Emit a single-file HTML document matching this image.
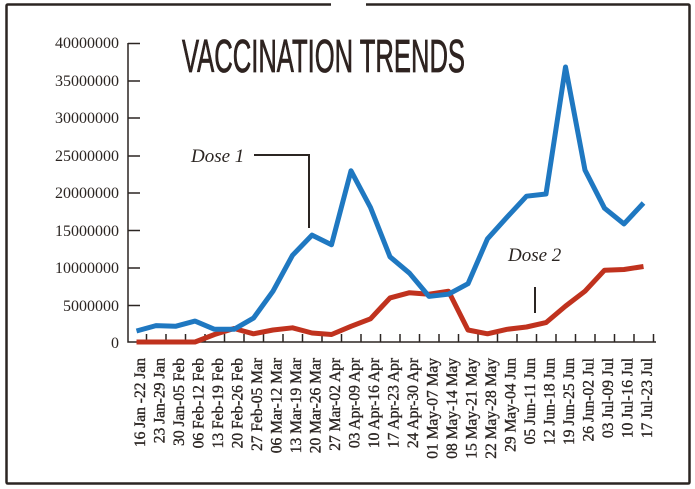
<!DOCTYPE html>
<html><head><meta charset="utf-8"><style>
html,body{margin:0;padding:0;background:#fff;}
svg{display:block;}
</style></head><body>
<svg width="695" height="489" viewBox="0 0 695 489" xmlns="http://www.w3.org/2000/svg">
<rect width="695" height="489" fill="#fff"/>
<path d="M331 4.5 H8 Q6.5 4.5 6.5 6 V482 Q6.5 483.5 8 483.5 H688 Q689.5 483.5 689.5 482 V6 Q689.5 4.5 688 4.5 H366" fill="none" stroke="#2b2522" stroke-width="2.5"/>
<text x="182" y="72" font-family="'Liberation Sans Narrow','Liberation Sans',sans-serif" font-weight="normal" font-size="46" fill="#2e2320" stroke="#2e2320" stroke-width="0.8" textLength="283" lengthAdjust="spacingAndGlyphs">VACCINATION TRENDS</text>
<g font-family="'Liberation Serif',serif" font-size="16" fill="#2b2522" text-anchor="end">
<text x="119" y="48">40000000</text>
<text x="119" y="86">35000000</text>
<text x="119" y="123">30000000</text>
<text x="119" y="161">25000000</text>
<text x="119" y="198">20000000</text>
<text x="119" y="236">15000000</text>
<text x="119" y="273">10000000</text>
<text x="119" y="311">5000000</text>
<text x="119" y="348">0</text>
</g>
<g stroke="#2b2522" stroke-width="1.5" fill="none">
<path d="M128 43 V342 H656"/>
<path d="M128 43.5H140M128 81H140M128 118H140M128 156H140M128 193H140M128 230.5H140M128 268H140M128 305.5H140"/>
<path d="M146.5 342V334M166 342V334M185.5 342V334M205 342V334M224.5 342V334M244 342V334M263.5 342V334M283 342V334M302.5 342V334M322 342V334M341.5 342V334M361 342V334M380.5 342V334M400 342V334M419.5 342V334M439 342V334M458.5 342V334M478 342V334M497.5 342V334M517 342V334M536.5 342V334M556 342V334M575.5 342V334M595 342V334M614.5 342V334M634 342V334M653.5 342V334"/>
</g>
<g stroke="#2b2522" stroke-width="2" fill="none">
<path d="M254 155H309V228"/>
<path d="M535 287V313"/>
</g>
<g font-family="'Liberation Serif',serif" font-style="italic" font-size="19" fill="#2b2522">
<text x="191" y="162">Dose 1</text>
<text x="508" y="261">Dose 2</text>
</g>
<polyline fill="none" stroke="#c0321e" stroke-width="5" stroke-linejoin="round" points="136.5,342 156,342 175.5,342 195,342 214.5,334.5 234,328.5 253.5,333.8 273,330 292.5,327.8 312,333 331.5,334.5 351,326.3 370.5,318.8 390,297.9 409.5,292.7 429,294.2 448.5,291.2 468,330 487.5,333.8 507,329.3 526.5,327 546,322.6 565.5,306.1 585,291.2 604.5,270.2 624,269.5 643.5,266.5"/>
<polyline fill="none" stroke="#1f78c1" stroke-width="5" stroke-linejoin="round" points="136.5,331 156,325.6 175.5,326.3 195,321.1 214.5,329.3 234,329.3 253.5,318.1 273,291.2 292.5,255.3 312,235.1 331.5,244.8 351,170.8 370.5,207.5 390,256.8 409.5,273.2 429,296.4 448.5,294.2 468,283.7 487.5,238.8 507,217.2 526.5,196.2 546,194 565.5,67 585,170.1 604.5,208.2 624,223.9 643.5,203"/>
<g font-family="'Liberation Serif',serif" font-size="15.5" fill="#2b2522" stroke="#2b2522" stroke-width="0.35" text-anchor="end">
<text transform="translate(145,358) rotate(-90)">16 Jan -22 Jan</text>
<text transform="translate(164.5,358) rotate(-90)">23 Jan-29 Jan</text>
<text transform="translate(184,358) rotate(-90)">30 Jan-05 Feb</text>
<text transform="translate(203.5,358) rotate(-90)">06 Feb-12 Feb</text>
<text transform="translate(223,358) rotate(-90)">13 Feb-19 Feb</text>
<text transform="translate(242.5,358) rotate(-90)">20 Feb-26 Feb</text>
<text transform="translate(262,358) rotate(-90)">27 Feb-05 Mar</text>
<text transform="translate(281.5,358) rotate(-90)">06 Mar-12 Mar</text>
<text transform="translate(301,358) rotate(-90)">13 Mar-19 Mar</text>
<text transform="translate(320.5,358) rotate(-90)">20 Mar-26 Mar</text>
<text transform="translate(340,358) rotate(-90)">27 Mar-02 Apr</text>
<text transform="translate(359.5,358) rotate(-90)">03 Apr-09 Apr</text>
<text transform="translate(379,358) rotate(-90)">10 Apr-16 Apr</text>
<text transform="translate(398.5,358) rotate(-90)">17 Apr-23 Apr</text>
<text transform="translate(418,358) rotate(-90)">24 Apr-30 Apr</text>
<text transform="translate(437.5,358) rotate(-90)">01 May-07 May</text>
<text transform="translate(457,358) rotate(-90)">08 May-14 May</text>
<text transform="translate(476.5,358) rotate(-90)">15 May-21 May</text>
<text transform="translate(496,358) rotate(-90)">22 May-28 May</text>
<text transform="translate(515.5,358) rotate(-90)">29 May-04 Jun</text>
<text transform="translate(535,358) rotate(-90)">05 Jun-11 Jun</text>
<text transform="translate(554.5,358) rotate(-90)">12 Jun-18 Jun</text>
<text transform="translate(574,358) rotate(-90)">19 Jun-25 Jun</text>
<text transform="translate(593.5,358) rotate(-90)">26 Jun-02 Jul</text>
<text transform="translate(613,358) rotate(-90)">03 Jul-09 Jul</text>
<text transform="translate(632.5,358) rotate(-90)">10 Jul-16 Jul</text>
<text transform="translate(652,358) rotate(-90)">17 Jul-23 Jul</text>
</g>
</svg>
</body></html>
